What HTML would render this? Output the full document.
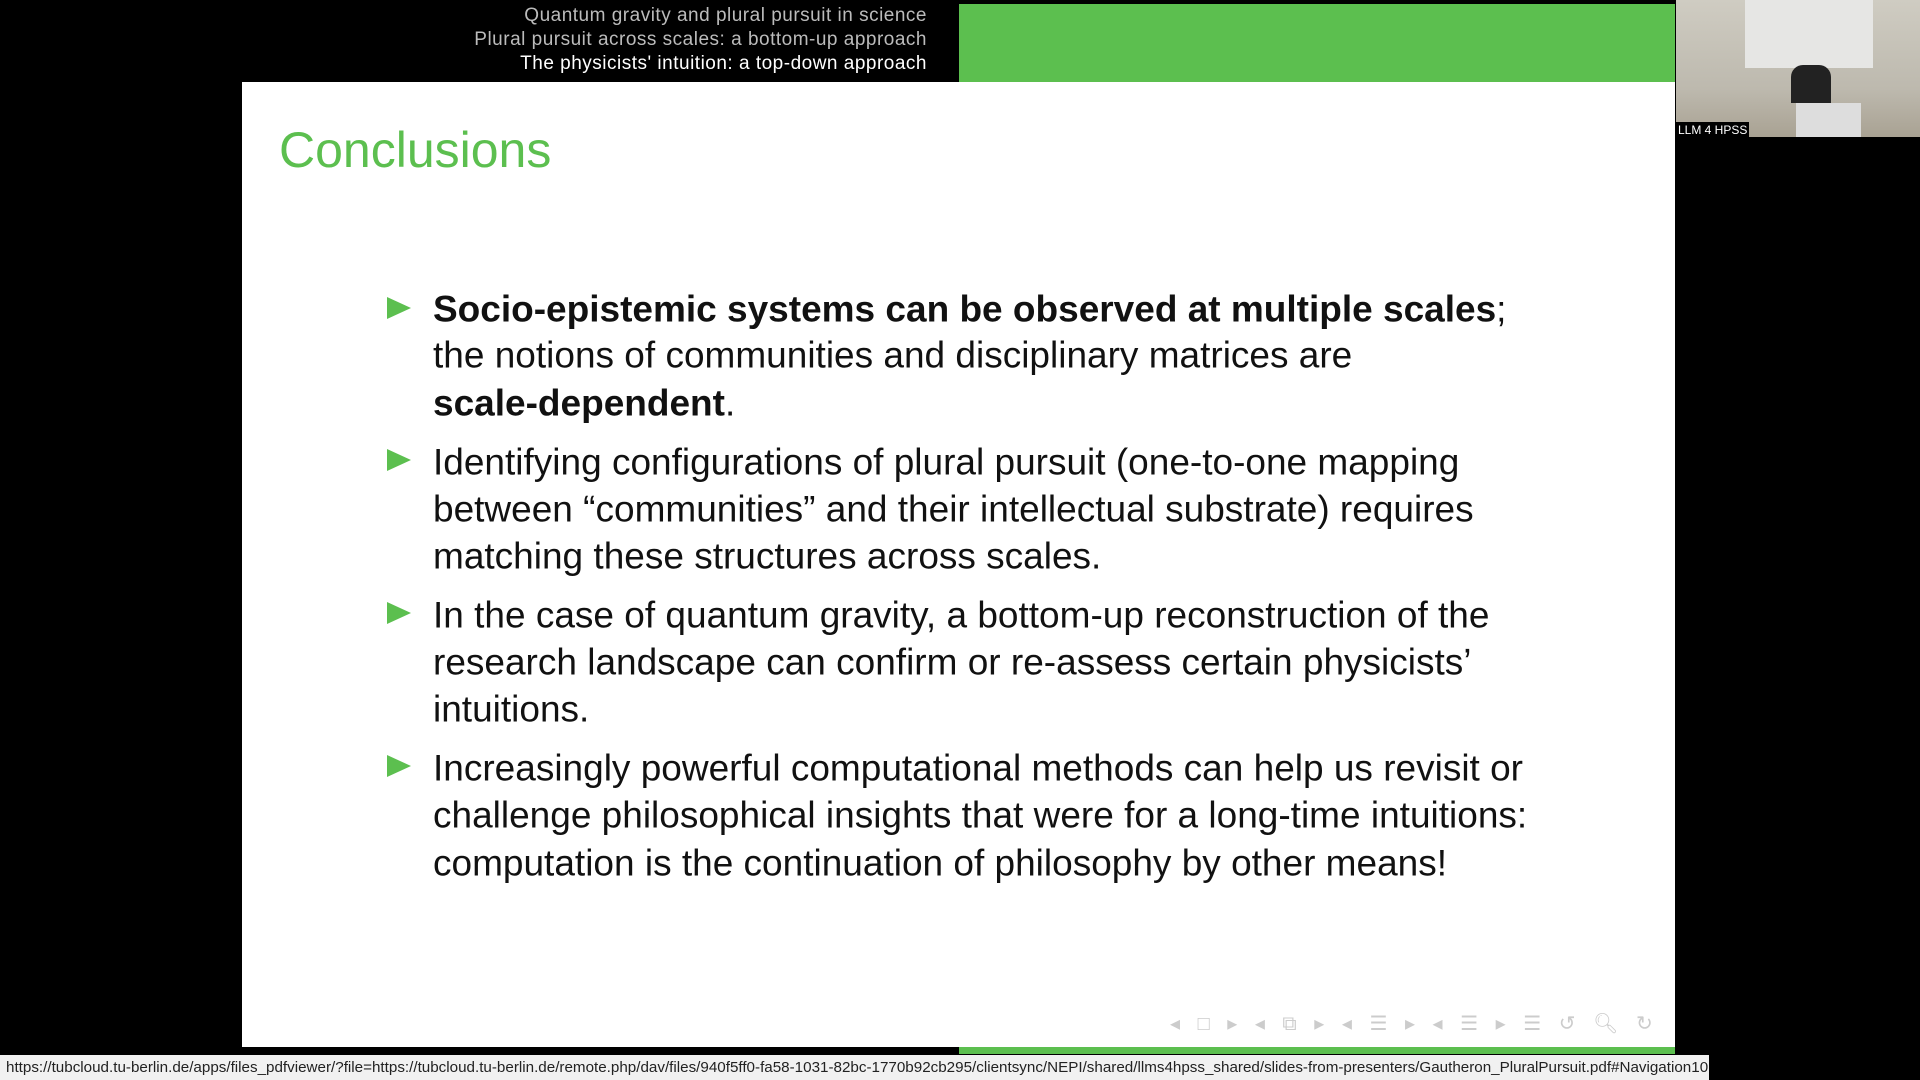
<!DOCTYPE html>
<html><head><meta charset="utf-8"><style>
body{margin:0;width:1920px;height:1080px;background:#000;position:relative;overflow:hidden;font-family:"Liberation Sans",sans-serif}
div{position:absolute}
.hd{right:993px;color:#bbb;font-size:19px;letter-spacing:0.5px;white-space:nowrap;text-align:right}
.ln{left:433px;font-size:37px;color:#111;white-space:nowrap;line-height:1;transform:translateY(-50%)}
.tri{left:387px;width:0;height:0;border-left:24px solid #5cbf4f;border-top:11px solid transparent;border-bottom:11px solid transparent;transform:translateY(-50%)}
</style></head><body>
<div style="left:959px;top:4px;width:716px;height:78px;background:#5cbf4f"></div>
<div class="hd" style="top:5px">Quantum gravity and plural pursuit in science</div>
<div class="hd" style="top:29px">Plural pursuit across scales: a bottom-up approach</div>
<div class="hd" style="top:53px;color:#fff">The physicists' intuition: a top-down approach</div>
<div style="left:242px;top:82px;width:1433px;height:965px;background:#fff"></div>
<div style="left:279px;top:121px;font-size:50px;color:#5cbf4f">Conclusions</div>
<div class="tri" style="top:308px"></div>
<div class="ln" style="top:309px"><b>Socio-epistemic systems can be observed at multiple scales</b>;</div>
<div class="ln" style="top:355px">the notions of communities and disciplinary matrices are</div>
<div class="ln" style="top:403px"><b>scale-dependent</b>.</div>
<div class="tri" style="top:460px"></div>
<div class="ln" style="top:462px">Identifying configurations of plural pursuit (one-to-one mapping</div>
<div class="ln" style="top:509px">between “communities” and their intellectual substrate) requires</div>
<div class="ln" style="top:556px">matching these structures across scales.</div>
<div class="tri" style="top:613px"></div>
<div class="ln" style="top:615px">In the case of quantum gravity, a bottom-up reconstruction of the</div>
<div class="ln" style="top:662px">research landscape can confirm or re-assess certain physicists’</div>
<div class="ln" style="top:709px">intuitions.</div>
<div class="tri" style="top:766px"></div>
<div class="ln" style="top:768px">Increasingly powerful computational methods can help us revisit or</div>
<div class="ln" style="top:815px">challenge philosophical insights that were for a long-time intuitions:</div>
<div class="ln" style="top:863px">computation is the continuation of philosophy by other means!</div>
<div style="left:1170px;top:1011px;font-size:20px;color:#ccc;letter-spacing:6px;white-space:nowrap">◂ □ ▸ ◂ ⧉ ▸ ◂ ☰ ▸ ◂ ☰ ▸ ☰ ↺ 🔍︎ ↻</div>
<div style="left:959px;top:1047px;width:716px;height:7px;background:#5cbf4f"></div>
<div style="left:1676px;top:0;width:244px;height:137px;background:linear-gradient(#cfccc2,#bdb9ae 65%,#a9a293)"><div style="left:69px;top:0;width:128px;height:68px;background:#e6e6e4"></div><div style="left:120px;top:103px;width:65px;height:34px;background:#ddd"></div><div style="left:115px;top:65px;width:40px;height:38px;background:#222;border-radius:12px 12px 0 0"></div><div style="left:0;top:122px;background:#000;color:#fff;font-size:12px;padding:1px 2px">LLM 4 HPSS</div></div>
<div style="left:0;top:1055px;width:1709px;height:25px;background:#f1f1f1;color:#222;font-size:15.2px;line-height:25px;padding-left:6px;white-space:nowrap;overflow:hidden;box-sizing:border-box">https://tubcloud.tu-berlin.de/apps/files_pdfviewer/?file=https://tubcloud.tu-berlin.de/remote.php/dav/files/940f5ff0-fa58-1031-82bc-1770b92cb295/clientsync/NEPI/shared/llms4hpss_shared/slides-from-presenters/Gautheron_PluralPursuit.pdf#Navigation10</div>
</body></html>
